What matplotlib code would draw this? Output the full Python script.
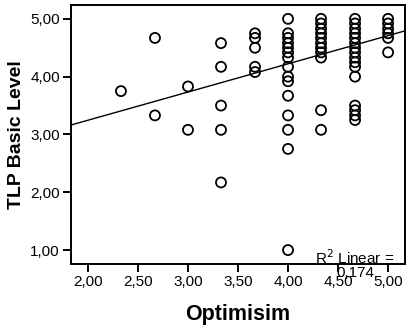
import numpy as np
import matplotlib
matplotlib.use('Agg')
import matplotlib.pyplot as plt

plt.rcParams['font.family'] = ['Liberation Sans', 'DejaVu Sans']

# optimism score -> list of TLP basic level scores
opt_x = [2.33, 2.67, 3.00, 3.33, 3.67, 4.00, 4.33, 4.67, 5.00]
tlp_y = [
    [3.75],
    [4.67, 3.33],
    [3.83, 3.08],
    [4.58, 4.17, 3.50, 3.08, 2.17],
    [4.75, 4.67, 4.50, 4.17, 4.08],
    [5.00, 4.75, 4.67, 4.58, 4.50, 4.42, 4.33, 4.17, 4.00, 3.92, 3.67, 3.33, 3.08, 2.75, 1.00],
    [5.00, 4.92, 4.83, 4.75, 4.67, 4.58, 4.50, 4.42, 4.33, 3.42, 3.08],
    [5.00, 4.92, 4.83, 4.75, 4.67, 4.58, 4.50, 4.42, 4.33, 4.25, 4.17, 4.00,
     3.50, 3.42, 3.33, 3.25],
    [5.00, 4.92, 4.83, 4.75, 4.67, 4.42],
]
fit_intercept = 2.27
fit_slope = 0.488
r2_text = 'R$^2$ Linear =\n0,174'

xs = np.concatenate([[x] * len(ys) for x, ys in zip(opt_x, tlp_y)])
ys = np.concatenate(tlp_y)

fig = plt.figure(figsize=(4.1, 3.32), dpi=100)
ax = fig.add_axes([0.173, 0.205, 0.815, 0.78])

ax.scatter(xs, ys, s=52, facecolors='none', edgecolors='black', linewidths=1.3, zorder=3)

xlim = (1.83, 5.17)
ax.set_xlim(xlim)
ax.set_ylim(0.76, 5.24)
lx = np.array(xlim)
ax.plot(lx, fit_intercept + fit_slope * lx, color='black', lw=1.0, zorder=2)

ticks_x = [2.0, 2.5, 3.0, 3.5, 4.0, 4.5, 5.0]
ticks_y = [1.0, 2.0, 3.0, 4.0, 5.0]
ax.set_xticks(ticks_x)
ax.set_yticks(ticks_y)
ax.set_xticklabels([('%.2f' % t).replace('.', ',') for t in ticks_x])
ax.set_yticklabels([('%.2f' % t).replace('.', ',') for t in ticks_y])
ax.tick_params(direction='out', length=6, width=1.4, labelsize=11, pad=2)
for sp in ax.spines.values():
    sp.set_linewidth(1.4)

ax.set_xlabel('Optimisim', fontsize=15.5, fontweight='bold', labelpad=11)
ax.set_ylabel('TLP Basic Level', fontsize=14, fontweight='bold', labelpad=4)

ax.text(4.67, 0.76, r2_text, ha='center', va='center', multialignment='center',
        fontsize=11, linespacing=0.95, zorder=5, clip_on=False)

fig.savefig('out.png', dpi=100)
